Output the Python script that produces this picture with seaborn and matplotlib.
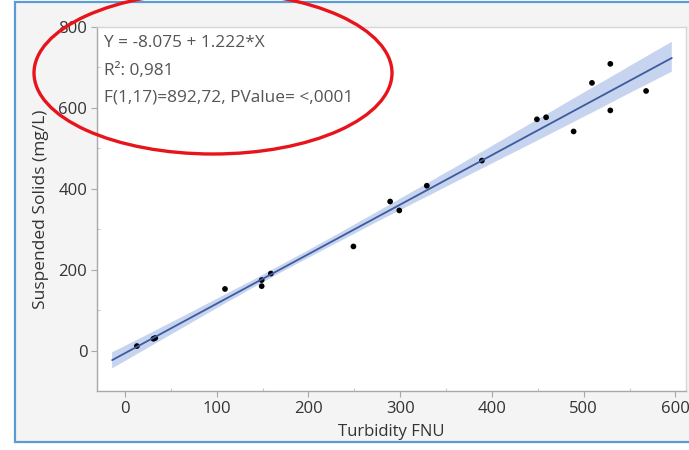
import numpy as np
import pandas as pd
import matplotlib
matplotlib.use("Agg")
import matplotlib.pyplot as plt
from matplotlib.patches import Ellipse, Rectangle
from matplotlib.ticker import MultipleLocator
import seaborn as sns

# ---- data ----
turbidity = [13, 31, 33, 109, 149, 149, 159, 249, 289, 299, 329, 389,
             449, 459, 489, 509, 529, 529, 568]
solids = [12, 30, 32, 153, 160, 175, 191, 258, 369, 347, 408, 470,
          572, 577, 542, 662, 709, 594, 642]
x_ticks = [0, 100, 200, 300, 400, 500, 600]
y_ticks = [0, 200, 400, 600, 800]
fit_text = ["Y = -8.075 + 1.222*X", "R\u00b2: 0,981", "F(1,17)=892,72, PValue= <,0001"]
x_label = "Turbidity FNU"
y_label = "Suspended Solids (mg/L)"

df = pd.DataFrame({"x": turbidity, "y": solids})

sns.set_theme(style="white")
plt.rcParams["font.family"] = ["Open Sans", "DejaVu Sans"]

W, H = 689, 450
fig = plt.figure(figsize=(W / 100, H / 100), dpi=100)
fig.patch.set_facecolor("white")

# outer panel (light gray with blue border on left/top/bottom)
panel = Rectangle((15 / W, 1 - 442 / H), 1.0, (442 - 2) / H, transform=fig.transFigure,
                  facecolor="#f4f4f4", edgecolor="#5b9bd5", linewidth=1.6, zorder=-5,
                  clip_on=False)
fig.patches.append(panel)

ax = fig.add_axes([97 / W, 1 - 391 / H, (686 - 97) / W, (391 - 27) / H])
ax.set_zorder(1)
ax.set_facecolor("white")

# fit line spans a slightly narrower range than the axes
ax.set_xlim(-14, 596)
sns.regplot(data=df, x="x", y="y", ax=ax, scatter=False, truncate=False,
            ci=95, n_boot=1000, seed=0, color="#3e5b9c",
            line_kws={"linewidth": 1.3, "zorder": 2})
for coll in ax.collections:
    coll.set_facecolor("#c6d4f0")
    coll.set_edgecolor("none")
    coll.set_alpha(1)
    coll.set_zorder(1)

ax.scatter(df["x"], df["y"], s=17, color="black", edgecolors="none", zorder=1.5)

ax.set_xlim(-30.5, 611.5)
ax.set_ylim(-99, 800)
ax.set_xticks(x_ticks)
ax.set_yticks(y_ticks)
ax.yaxis.set_minor_locator(MultipleLocator(100))
ax.xaxis.set_minor_locator(MultipleLocator(50))
ax.tick_params(axis="both", which="major", direction="out", length=4, width=0.8,
               color="#a8a8a8", labelsize=12, labelcolor="#333333", pad=3)
ax.tick_params(axis="both", which="minor", direction="in", length=2.5, width=0.8,
               color="#c8c8c8")
ax.tick_params(axis="x", which="both", bottom=True)
ax.tick_params(axis="y", which="both", left=True)

for side in ["left", "bottom"]:
    ax.spines[side].set_color("#a8a8a8")
    ax.spines[side].set_linewidth(1.0)
for side in ["top", "right"]:
    ax.spines[side].set_color("#d6d6d6")
    ax.spines[side].set_linewidth(1.0)

ax.set_xlabel(x_label, fontsize=12, color="#333333", labelpad=5)
ax.set_ylabel(y_label, fontsize=12.5, color="#333333", labelpad=7)

for t, yy in zip(fit_text, [43, 71, 98]):
    fig.text(104 / W, 1 - yy / H, t, fontsize=12.4, color="#555555",
             va="center", ha="left", zorder=5)

ell = Ellipse((213 / W, 1 - 73 / H), 358 / W, 162 / H, transform=fig.transFigure,
              facecolor="none", edgecolor="#e8141c", linewidth=2.4, clip_on=False,
              zorder=10)
fig.patches.append(ell)

fig.savefig("out.png", dpi=100)
